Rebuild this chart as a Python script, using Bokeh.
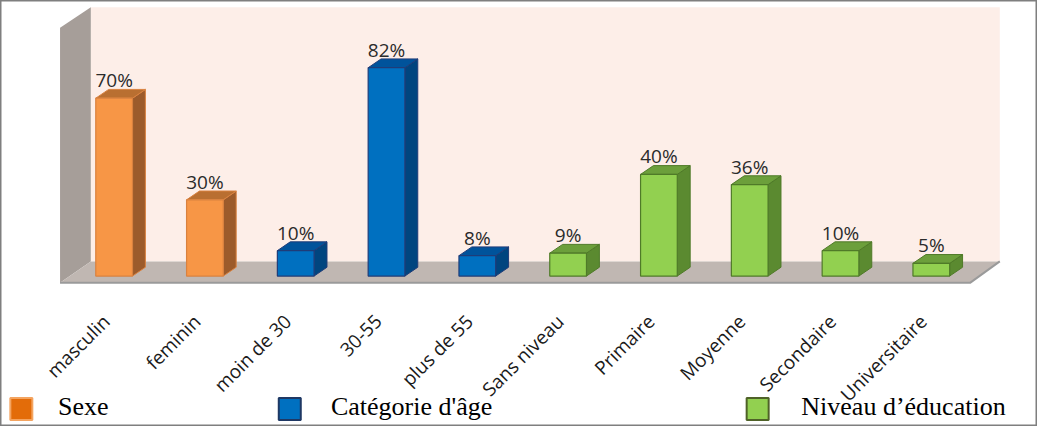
import math
from bokeh.plotting import figure
from bokeh.models import Range1d, ColumnDataSource
from bokeh.embed import file_html
from bokeh.resources import INLINE
from bokeh.core.properties import value as pv

# ---------------- data ----------------
categories = ["masculin", "feminin", "moin de 30", "30-55", "plus de 55",
              "Sans niveau", "Primaire", "Moyenne", "Secondaire", "Universitaire"]
values = [70, 30, 10, 82, 8, 9, 40, 36, 10, 5]
groups = ["Sexe", "Sexe",
          "Catégorie d'âge", "Catégorie d'âge", "Catégorie d'âge",
          "Niveau d’éducation", "Niveau d’éducation", "Niveau d’éducation",
          "Niveau d’éducation", "Niveau d’éducation"]
legend_names = ["Sexe", "Catégorie d'âge", "Niveau d’éducation"]

# ---------------- styles ----------------
front_col = {"Sexe": "#F79646", "Catégorie d'âge": "#0070C0", "Niveau d’éducation": "#92D050"}
side_col = {"Sexe": "#9C5B2B", "Catégorie d'âge": "#00457F", "Niveau d’éducation": "#5B8A30"}
top_col = {"Sexe": "#B96F31", "Catégorie d'âge": "#00539B", "Niveau d’éducation": "#6C9F3B"}
edge_col = {"Sexe": "#D9813F", "Catégorie d'âge": "#1F3C78", "Niveau d’éducation": "#4F7A28"}
legend_fill = {"Sexe": "#E36C09", "Catégorie d'âge": "#0070C0", "Niveau d’éducation": "#92D050"}
legend_edge = {"Sexe": "#F4A460", "Catégorie d'âge": "#1F3864", "Niveau d’éducation": "#4F6228"}

# ---------------- layout geometry (reference pixels) ----------------
CENTER0, STEP = 119.5, 91.5      # x pixel of first category, category spacing
BASE_Y, PX_PER_PCT = 286.0, 2.6  # pixel of 0 %, pixels per percent


def X(px):
    return (px - CENTER0) / STEP


def Y(py):
    return (BASE_Y - py) / PX_PER_PCT


BAR_W = 37 / STEP
DEPTH_X = 13 / STEP
DEPTH_Y = 9 / PX_PER_PCT

p = figure(width=1037, height=426,
           x_range=Range1d(X(5), X(1050)), y_range=Range1d(Y(440), Y(4)),
           min_border=0, toolbar_location=None, output_backend="svg",
           x_axis_location=None, y_axis_location=None,
           background_fill_color="white", border_fill_color="white",
           outline_line_color="#7F7F7F", outline_line_width=2)
p.grid.visible = False

# walls and floor
p.quad(left=X(96), right=X(1012), bottom=Y(271), top=Y(11),
       fill_color="#FDEEE8", line_color=None)
p.patch([X(65), X(96), X(96), X(65)], [Y(32), Y(11), Y(271), Y(293)],
        fill_color="#A69E99", line_color=None)
p.patch([X(65), X(96), X(1012), X(982)], [Y(293), Y(271), Y(271), Y(293)],
        fill_color="#C0B7B2", line_color=None)
p.line([X(65), X(982), X(1012)], [Y(293), Y(293), Y(271)],
       line_color="#9A9A9A", line_width=2)

# 3D bars
for g in legend_names:
    idx = [i for i in range(len(values)) if groups[i] == g]
    xs = [float(i) for i in idx]
    vs = [values[i] for i in idx]
    side = ColumnDataSource(dict(
        xs=[[x + BAR_W / 2, x + BAR_W / 2 + DEPTH_X, x + BAR_W / 2 + DEPTH_X, x + BAR_W / 2] for x in xs],
        ys=[[0, DEPTH_Y, v + DEPTH_Y, v] for v in vs]))
    top = ColumnDataSource(dict(
        xs=[[x - BAR_W / 2, x + BAR_W / 2, x + BAR_W / 2 + DEPTH_X, x - BAR_W / 2 + DEPTH_X] for x in xs],
        ys=[[v, v, v + DEPTH_Y, v + DEPTH_Y] for v in vs]))
    p.patches("xs", "ys", source=side, fill_color=side_col[g],
              line_color=edge_col[g], line_width=1)
    p.patches("xs", "ys", source=top, fill_color=top_col[g],
              line_color=edge_col[g], line_width=1)
    p.quad(left=[x - BAR_W / 2 for x in xs], right=[x + BAR_W / 2 for x in xs],
           bottom=0, top=vs, fill_color=front_col[g],
           line_color=edge_col[g], line_width=1.2)

# value labels
p.text(x=list(range(len(values))), y=[v + 18.5 / PX_PER_PCT for v in values],
       text=[f"{v}%" for v in values], text_align="center",
       text_baseline="middle", text_font=pv("Open Sans"),
       text_font_size="19px", text_color="#2B2B2B")

# category labels (rotated)
p.text(x=[i - 8 / STEP for i in range(len(categories))],
       y=[Y(329)] * len(categories), text=categories, angle=math.pi / 4,
       text_align="right", text_baseline="middle", text_font=pv("Open Sans"),
       text_font_size="19px", text_color="#1A1A1A")

# legend
p.rect(x=[X(26), X(296.5), X(768)], y=[Y(422)] * 3, width=22, height=22,
       width_units="screen", height_units="screen",
       fill_color=[legend_fill[g] for g in legend_names],
       line_color=[legend_edge[g] for g in legend_names], line_width=2)
p.text(x=[X(63), X(338), X(812)], y=[Y(420)] * 3, text=legend_names,
       text_align="left", text_baseline="middle",
       text_font=pv("Liberation Serif"), text_font_size="26px",
       text_color="black")

open("out.html", "w").write(file_html(p, INLINE))
